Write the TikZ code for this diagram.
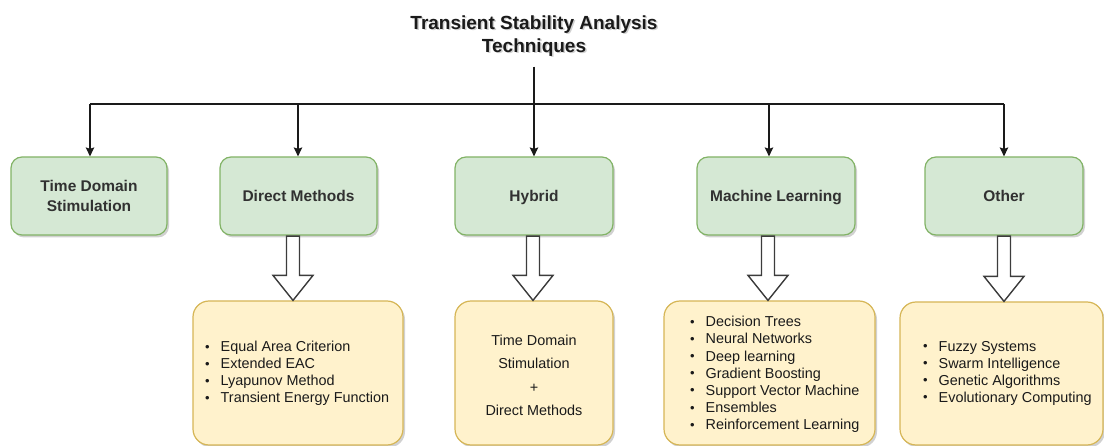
\documentclass[tikz,border=0pt]{standalone}
\usepackage{fontspec}
\setmainfont{Liberation Sans}
\usetikzlibrary{arrows.meta,shadows,calc}
\definecolor{gfill}{HTML}{D5E8D4}
\definecolor{gline}{HTML}{82B366}
\definecolor{yfill}{HTML}{FFF2CC}
\definecolor{yline}{HTML}{D6B656}
\definecolor{ink}{HTML}{1A1A1A}
\newcommand\bu{\makebox[15.5pt][l]{\raisebox{0.6pt}{\fontsize{13}{13}\selectfont •}}}
\begin{document}
\begin{tikzpicture}[x=1pt,y=-1pt,
  shadowed/.style={drop shadow={shadow xshift=2pt,shadow yshift=-2.5pt,opacity=0.18,fill=black}},
  gbox/.style={shadowed,draw=gline,fill=gfill,line width=1.2pt,rounded corners=11pt,
    inner sep=0pt,text=ink!90,align=center,text depth=0pt,
    font=\fontsize{15.5}{20}\selectfont\bfseries},
  ybox/.style={shadowed,draw=yline,fill=yfill,line width=1.2pt,rounded corners=16pt,inner sep=0pt},
  listtext/.style={inner sep=0pt,align=left,text=ink,font=\fontsize{14.4}{17.1}\selectfont},
  ln/.style={draw=ink,line width=1.2pt},
  arr/.style={ln,-{Stealth[length=9pt,width=8.5pt,inset=1.5pt]}},
  hollow/.style={draw=ink!85,line width=1.4pt,fill=white,line join=miter}]
\useasboundingbox (0,0) rectangle (1104,446);

% title
\node[inner sep=0pt,anchor=north,align=center,text=black!18,
  font=\fontsize{19}{23}\selectfont\bfseries] (tsh) at (535.5,17) {Transient Stability Analysis\\Techniques};
\node[inner sep=0pt,anchor=north,align=center,text=ink,
  font=\fontsize{19}{23}\selectfont\bfseries] (t) at (534,15.5) {Transient Stability Analysis\\Techniques};

% green boxes
\node[gbox,minimum width=156pt,minimum height=78pt] (g1) at (89,196) {Time Domain\\Stimulation};
\node[gbox,minimum width=157pt,minimum height=78pt] (g2) at (298.5,196) {Direct Methods};
\node[gbox,minimum width=158pt,minimum height=78pt] (g3) at (534,196) {Hybrid};
\node[gbox,minimum width=158pt,minimum height=78pt] (g4) at (776,196) {Machine Learning};
\node[gbox,minimum width=158pt,minimum height=78pt] (g5) at (1004,196) {Other};

% yellow boxes
\node[ybox,minimum width=210pt,minimum height=144pt] (y2) at (298,373) {};
\node[ybox,minimum width=158pt,minimum height=144pt] (y3) at (534,373) {};
\node[ybox,minimum width=211pt,minimum height=144pt] (y4) at (769.5,373) {};
\node[ybox,minimum width=203pt,minimum height=143pt] (y5) at (1001.5,373.5) {};

\node[listtext,anchor=north west] (y2t) at (205,341)
  {\bu Equal Area Criterion\\\bu Extended EAC\\\bu Lyapunov Method\\\bu Transient Energy Function};
\node[inner sep=0pt,anchor=north,align=center,text=ink,font=\fontsize{14.4}{23.3}\selectfont] (y3t) at (534,335)
  {Time Domain\\Stimulation\\+\\Direct Methods};
\node[listtext,anchor=north west,font=\fontsize{14.4}{17.2}\selectfont] (y4t) at (690,316)
  {\bu Decision Trees\\\bu Neural Networks\\\bu Deep learning\\\bu Gradient Boosting\\\bu Support Vector Machine\\\bu Ensembles\\\bu Reinforcement Learning};
\node[listtext,anchor=north west] (y5t) at (923,341)
  {\bu Fuzzy Systems\\\bu Swarm Intelligence\\\bu Genetic Algorithms\\\bu Evolutionary Computing};

% connectors
\coordinate (ts0) at ([yshift=-10pt]t.south);
\coordinate (h1) at (90,104);
\coordinate (h2) at (298,104);
\coordinate (h4) at (769,104);
\coordinate (h5) at (1004,104);
\draw[ln] (h1) -- (h5);
\draw[arr] (ts0) -- (ts0 |- g3.north);
\draw[arr] (h1) -- (h1 |- g1.north);
\draw[arr] (h2) -- (h2 |- g2.north);
\draw[arr] (h4) -- (h4 |- g4.north);
\draw[arr] (h5) -- (h5 |- g5.north);

% hollow arrows
\foreach \n/\x in {2/293,3/533,4/768,5/1004}{
  \coordinate (s\n) at ([yshift=-0.6pt]\x,0 |- g\n.south);
  \coordinate (e\n) at (\x,0 |- y\n.north);
  \draw[hollow] ($(s\n)+(-6.5,0)$) -- ($(e\n)+(-6.5,-25)$) -- ($(e\n)+(-20,-25)$) -- (e\n)
     -- ($(e\n)+(20,-25)$) -- ($(e\n)+(6.5,-25)$) -- ($(s\n)+(6.5,0)$) -- cycle;
}
\end{tikzpicture}
\end{document}
